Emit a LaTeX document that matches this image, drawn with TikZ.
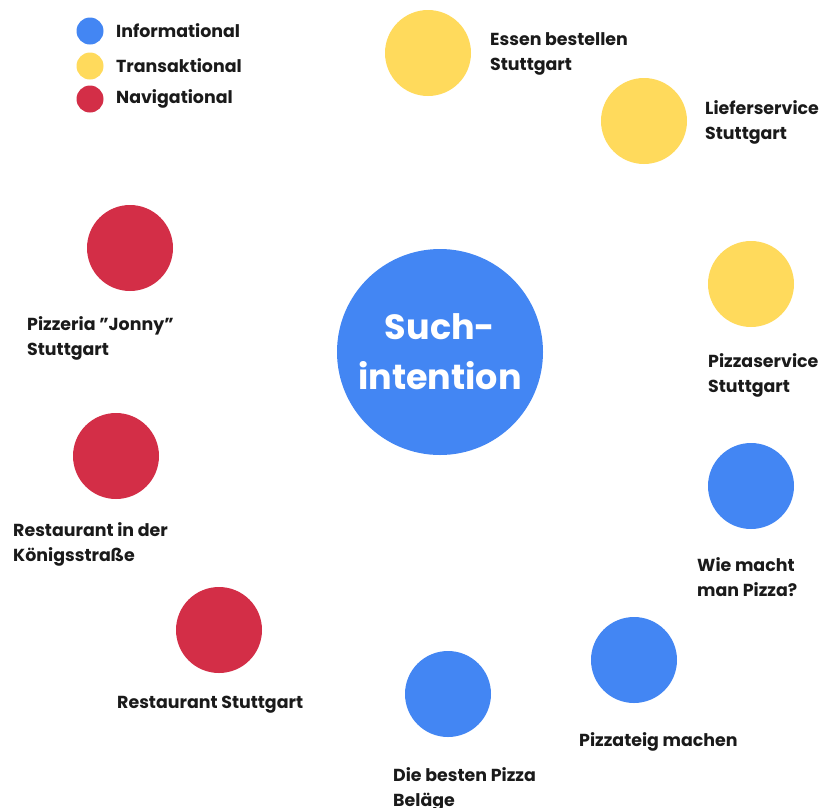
\documentclass[tikz,border=0pt]{standalone}
\usepackage{fontspec}
\setmainfont{Poppins}[UprightFont=* Bold]
\newfontfamily\titlefont{Poppins}[UprightFont=* Bold]
\definecolor{infoblue}{HTML}{4386F3}
\definecolor{transyellow}{HTML}{FFDA5C}
\definecolor{navred}{HTML}{D32E47}
\definecolor{inkdark}{HTML}{1A1A1A}
\begin{document}
\begin{tikzpicture}[x=1pt,y=-1pt,
  bubble/.style={circle,inner sep=0pt,minimum size=86pt},
  info/.style={bubble,fill=infoblue},
  trans/.style={bubble,fill=transyellow},
  navi/.style={bubble,fill=navred},
  dot/.style={circle,inner sep=0pt,minimum size=27pt},
  lbl/.style={anchor=north west,inner sep=0pt,align=left,text=inkdark,
    font=\fontsize{17.4}{25}\selectfont},
  legtext/.style={anchor=west,inner sep=0pt,text=inkdark,
    font=\fontsize{17.4}{25}\selectfont}]
\useasboundingbox (0,0) rectangle (819,807);

% legend
\node[dot,fill=infoblue] (l1) at (90,31) {};
\node[dot,fill=transyellow] (l2) at (90,66) {};
\node[dot,fill=navred] (l3) at (90,99) {};
\node[legtext] (t1) at (116,31) {Informational};
\node[legtext] (t2) at (116,66) {Transaktional};
\node[legtext] (t3) at (116,99) {Navigational};

% central bubble
\node[circle,fill=infoblue,minimum size=206pt,inner sep=0pt,text=white,
  align=center,font=\titlefont\fontsize{35}{50}\selectfont] (center) at (440,352)
  {Such-\\intention};

% transactional
\node[trans] (a) at (428,53) {};
\node[trans] (b) at (644,121) {};
\node[trans] (c) at (751,284) {};
% informational
\node[info] (d) at (751,486) {};
\node[info] (e) at (634,660) {};
\node[info] (f) at (448,694) {};
% navigational
\node[navi] (g) at (219,630) {};
\node[navi] (h) at (116,456) {};
\node[navi] (i) at (130,248) {};

% labels
\node[lbl] (la) at (490,32) {Essen bestellen\\Stuttgart};
\node[lbl] (lb) at (705,100) {Lieferservice\\Stuttgart};
\node[lbl] (lc) at (708,353) {Pizzaservice\\Stuttgart};
\node[lbl] (ld) at (697,557) {Wie macht\\man Pizza?};
\node[lbl] (le) at (579,732) {Pizzateig machen};
\node[lbl] (lf) at (393,767) {Die besten Pizza\\Beläge};
\node[lbl] (lg) at (117,696) {Restaurant Stuttgart};
\node[lbl] (lh) at (13,522) {Restaurant in der\\Königsstraße};
\node[lbl] (li) at (27,316) {Pizzeria \symbol{34}Jonny\symbol{34}\\Stuttgart};
\end{tikzpicture}
\end{document}
